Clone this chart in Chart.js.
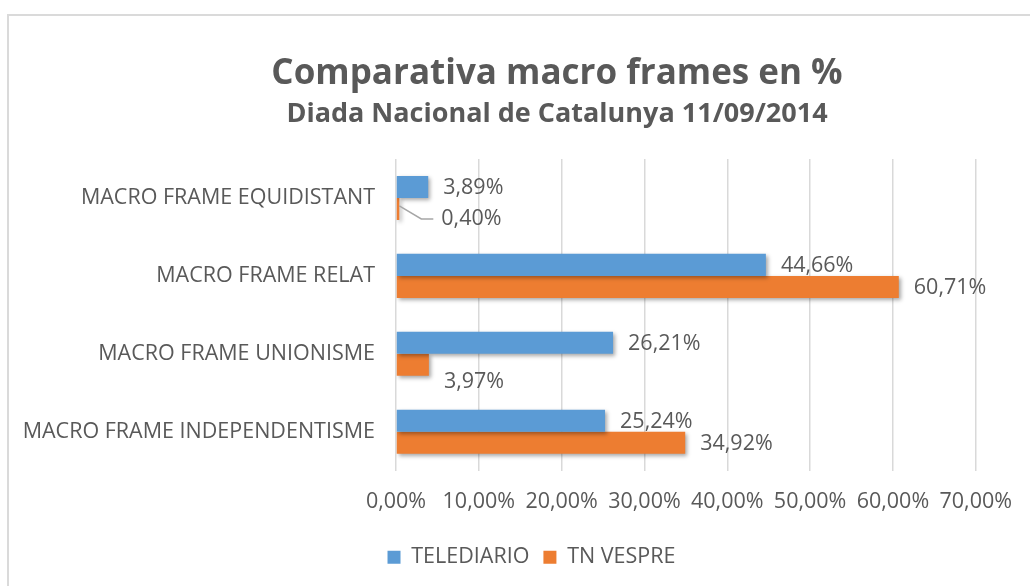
<!DOCTYPE html>
<html>
<head>
<meta charset="utf-8">
<script src="https://cdn.jsdelivr.net/npm/chart.js@4.4.1/dist/chart.umd.min.js"></script>
<style>
  html, body { margin: 0; padding: 0; background: #fff; overflow: hidden; }
  #wrap { position: relative; width: 1030px; height: 586px; }
  #frame { position: absolute; left: 7px; top: 14px; width: 1100px; height: 1000px; border: 2px solid #dadada; }
  canvas { position: absolute; left: 0; top: 0; }
</style>
</head>
<body>
<div id="wrap">
  <div id="frame"></div>
  <canvas id="bar-chart" width="1030" height="586"></canvas>
</div>
<script>
// chart data
const categories = [
  "MACRO FRAME EQUIDISTANT",
  "MACRO FRAME RELAT",
  "MACRO FRAME UNIONISME",
  "MACRO FRAME INDEPENDENTISME",
];
const seriesNames = ["TELEDIARIO", "TN VESPRE"];
const telediario = [3.89, 44.66, 26.21, 25.24];
const tnVespre = [0.40, 60.71, 3.97, 34.92];
const xTicks = [0, 10, 20, 30, 40, 50, 60, 70];
const titleText = "Comparativa macro frames en %";
const subtitleText = "Diada Nacional de Catalunya 11/09/2014";

const TEXT = "#595959";
const FONT = "'Open Sans', sans-serif";
const SMALL = 21.5;
const fmt = (v) => v.toFixed(2).replace(".", ",") + "%";

// label nudges (dataset:index -> [dx, dy, leader line])
const labelNudge = {
  "1:0": [27, 9, true],
  "1:2": [0, 16, false],
};

// title block is centred on the whole frame, not on the plot
const titles = {
  id: "titles",
  afterDraw(chart) {
    const ctx = chart.ctx;
    ctx.save();
    ctx.fillStyle = TEXT;
    ctx.textAlign = "center";
    ctx.textBaseline = "middle";
    ctx.font = "bold 35px " + FONT;
    ctx.fillText(titleText, 557, 74);
    ctx.font = "bold 27px " + FONT;
    ctx.fillText(subtitleText, 557, 114);
    ctx.restore();
  },
};

// legend sits a bit right of the canvas centre
const legendShift = {
  id: "legendShift",
  afterLayout(chart) {
    chart.legend.left += 42;
    chart.legend.right += 42;
  },
};

// soft shadow under the bars, like the office chart
const barShadow = {
  id: "barShadow",
  beforeDatasetsDraw(chart) {
    const ctx = chart.ctx;
    ctx.save();
    ctx.shadowColor = "rgba(0,0,0,0.35)";
    ctx.shadowBlur = 4;
    ctx.shadowOffsetX = 2;
    ctx.shadowOffsetY = 2;
  },
  afterDatasetsDraw(chart) {
    chart.ctx.restore();
  },
};

const valueLabels = {
  id: "valueLabels",
  afterDatasetsDraw(chart) {
    const ctx = chart.ctx;
    ctx.save();
    ctx.font = SMALL + "px " + FONT;
    ctx.fillStyle = TEXT;
    ctx.textAlign = "left";
    ctx.textBaseline = "middle";
    chart.data.datasets.forEach((ds, di) => {
      chart.getDatasetMeta(di).data.forEach((bar, i) => {
        const n = labelNudge[di + ":" + i] || [0, 0, false];
        const x = bar.x + 15 + n[0];
        const y = bar.y + 1 + n[1];
        if (n[2]) {
          ctx.strokeStyle = "#a6a6a6";
          ctx.lineWidth = 1.5;
          ctx.beginPath();
          ctx.moveTo(bar.x, bar.y - 3);
          ctx.lineTo(x - 20, y);
          ctx.lineTo(x - 8, y);
          ctx.stroke();
        }
        ctx.fillText(fmt(ds.data[i]), x, y);
      });
    });
    ctx.restore();
  },
};

const ctx = document.getElementById("bar-chart").getContext("2d");
new Chart(ctx, {
  type: "bar",
  data: {
    labels: categories,
    datasets: [
      { label: seriesNames[0], data: telediario, backgroundColor: "#5b9bd5" },
      { label: seriesNames[1], data: tnVespre, backgroundColor: "#ed7d31" },
    ],
  },
  options: {
    indexAxis: "y",
    responsive: false,
    animation: false,
    layout: { padding: { left: 0, right: 51, top: 159, bottom: 8 } },
    datasets: {
      bar: { barPercentage: 1, categoryPercentage: 0.565 },
    },
    plugins: {
      title: { display: false },
      legend: {
        position: "bottom",
        labels: {
          color: TEXT,
          font: { family: FONT, size: SMALL },
          boxWidth: 13,
          boxHeight: 13,
          padding: 14,
        },
      },
      tooltip: { enabled: false },
    },
    scales: {
      x: {
        min: 0,
        max: 70,
        afterBuildTicks(scale) {
          scale.ticks = xTicks.map((v) => ({ value: v }));
        },
        ticks: {
          color: TEXT,
          font: { family: FONT, size: SMALL },
          padding: 18,
          callback: (v) => fmt(v),
        },
        grid: { color: "#d9d9d9", lineWidth: 1.5, drawTicks: false },
        border: { display: false },
      },
      y: {
        afterFit(scale) {
          scale.width = 396;
        },
        ticks: {
          color: TEXT,
          font: { family: FONT, size: SMALL },
          padding: 21,
        },
        grid: { display: false, drawTicks: false },
        border: { display: false },
      },
    },
  },
  plugins: [titles, legendShift, barShadow, valueLabels],
});
</script>
</body>
</html>
